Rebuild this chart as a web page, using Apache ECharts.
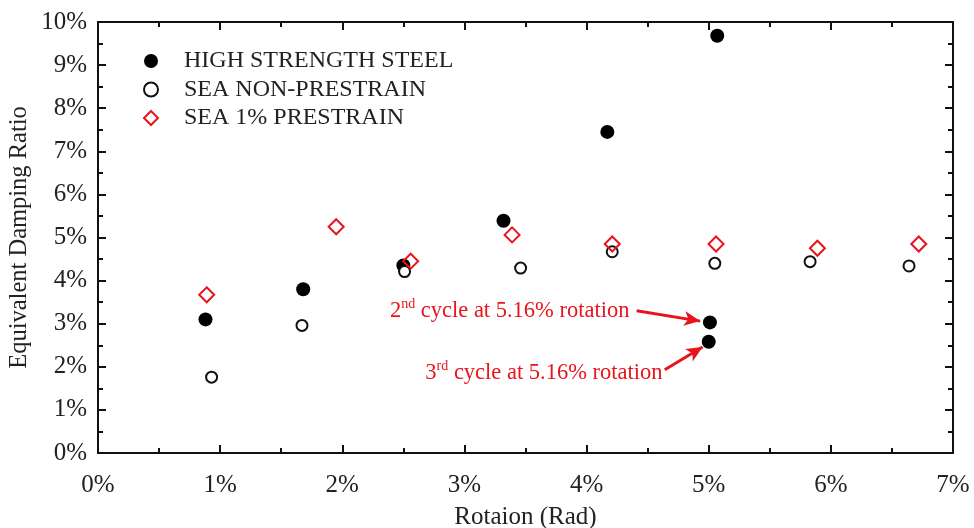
<!DOCTYPE html>
<html>
<head>
<meta charset="utf-8">
<script src="https://cdn.jsdelivr.net/npm/echarts@6/dist/echarts.min.js"></script>
<style>
html,body{margin:0;padding:0;background:#fff;}
#c{width:974px;height:528px;}
</style>
</head>
<body>
<div id="c"></div>
<script>
// Rotation (%) and equivalent damping ratio (%)
var steelX = [0.88, 1.68, 2.50, 3.32, 4.17, 5.07, 5.01, 5.00];
var steelY = [3.10, 3.80, 4.35, 5.39, 7.45, 9.68, 3.03, 2.58];
var seaNonX = [0.93, 1.67, 2.51, 3.46, 4.21, 5.05, 5.83, 6.64];
var seaNonY = [1.76, 2.96, 4.21, 4.29, 4.67, 4.40, 4.44, 4.34];
var seaPreX = [0.89, 1.95, 2.56, 3.39, 4.21, 5.06, 5.89, 6.72];
var seaPreY = [3.67, 5.25, 4.45, 5.06, 4.85, 4.85, 4.75, 4.85];
var seriesNames = ['HIGH STRENGTH STEEL', 'SEA NON-PRESTRAIN', 'SEA 1% PRESTRAIN'];
var xTicks = [0, 1, 2, 3, 4, 5, 6, 7];
var yTicks = [0, 1, 2, 3, 4, 5, 6, 7, 8, 9, 10];
var note2nd = {x: 2.39, y: 3.32, arrowFrom: [4.41, 3.30], arrowTo: [4.93, 3.06]};
var note3rd = {x: 2.68, y: 1.88, arrowFrom: [4.64, 1.93], arrowTo: [4.95, 2.46]};

function pairs(xs, ys) { return xs.map(function (x, i) { return [x, ys[i]]; }); }

var FONT = '"Liberation Serif", "Times New Roman", serif';
var RED = '#e8141c';
var chart = echarts.init(document.getElementById('c'), null, {renderer: 'canvas'});

var richStyle = {
  m: {fontFamily: FONT, fontSize: 22.5, color: RED, lineHeight: 26, verticalAlign: 'bottom'},
  s: {fontFamily: FONT, fontSize: 14, color: RED, lineHeight: 26, verticalAlign: 'top', padding: [0, 0, 10, 0]}
};

function axisCommon(showLabels) {
  return {
    type: 'value', min: xTicks[0], max: xTicks[xTicks.length - 1], interval: 1,
    axisLine: {show: true, onZero: false, lineStyle: {color: '#111', width: 2}},
    axisTick: {show: true, inside: true, length: 8, lineStyle: {color: '#111', width: 2}},
    minorTick: {show: true, splitNumber: 2, length: 5, lineStyle: {color: '#111', width: 2}},
    splitLine: {show: false},
    axisLabel: {show: showLabels}
  };
}

var xBottom = axisCommon(true);
xBottom.position = 'bottom';
xBottom.name = 'Rotaion (Rad)';
xBottom.nameLocation = 'middle';
xBottom.nameGap = 52;
xBottom.nameTextStyle = {fontFamily: FONT, fontSize: 25, color: '#222'};
xBottom.axisLabel = {show: true, formatter: '{value}%', fontFamily: FONT, fontSize: 25, color: '#222', margin: 20};
var xTop = axisCommon(false);
xTop.position = 'top';

var yLeft = axisCommon(true);
yLeft.min = yTicks[0]; yLeft.max = yTicks[yTicks.length - 1];
yLeft.position = 'left';
yLeft.name = 'Equivalent Damping Ratio';
yLeft.nameLocation = 'middle';
yLeft.nameGap = 66;
yLeft.nameMoveOverlap = false;
yLeft.nameTextStyle = {fontFamily: FONT, fontSize: 24.5, color: '#222'};
yLeft.axisLabel = {show: true, formatter: '{value}%', fontFamily: FONT, fontSize: 25, color: '#222', margin: 11};
var yRight = axisCommon(false);
yRight.min = yTicks[0]; yRight.max = yTicks[yTicks.length - 1];
yRight.position = 'right';

var option = {
  animation: false,
  backgroundColor: '#fff',
  grid: {left: 98, right: 21, top: 22, bottom: 75, containLabel: false, outerBoundsMode: 'none'},
  legend: {
    orient: 'vertical', left: 143, top: 49, padding: 0, itemGap: 4.5, itemWidth: 14, itemHeight: 14,
    textStyle: {fontFamily: FONT, fontSize: 24, lineHeight: 23, color: '#222', padding: [0, 0, 0, 21]},
    data: seriesNames
  },
  xAxis: [xBottom, xTop],
  yAxis: [yLeft, yRight],
  series: [
    {
      name: seriesNames[0], type: 'scatter', xAxisIndex: 0, yAxisIndex: 0,
      symbol: 'circle', symbolSize: 14,
      itemStyle: {color: '#000', opacity: 1},
      data: pairs(steelX, steelY),
      markPoint: {
        symbol: 'circle', symbolSize: 0, silent: true,
        data: [
          {coord: [note2nd.x, note2nd.y], label: {show: true, position: 'right', distance: 0,
            formatter: '{m|2}{s|nd}{m| cycle at 5.16% rotation}', rich: richStyle}},
          {coord: [note3rd.x, note3rd.y], label: {show: true, position: 'right', distance: 0,
            formatter: '{m|3}{s|rd}{m| cycle at 5.16% rotation}', rich: richStyle}}
        ]
      },
      markLine: {
        silent: true, symbol: ['none', 'arrow'], symbolSize: [11, 16],
        label: {show: false},
        lineStyle: {color: RED, width: 3, type: 'solid'},
        data: [
          [{coord: note2nd.arrowFrom}, {coord: note2nd.arrowTo}],
          [{coord: note3rd.arrowFrom}, {coord: note3rd.arrowTo}]
        ]
      }
    },
    {
      name: seriesNames[1], type: 'scatter', xAxisIndex: 0, yAxisIndex: 0,
      symbol: 'circle', symbolSize: 11,
      itemStyle: {color: '#fff', borderColor: '#111', borderWidth: 2, opacity: 1},
      data: pairs(seaNonX, seaNonY)
    },
    {
      name: seriesNames[2], type: 'scatter', xAxisIndex: 0, yAxisIndex: 0,
      symbol: 'diamond', symbolSize: 15,
      itemStyle: {color: 'rgba(255,255,255,0)', borderColor: RED, borderWidth: 2, opacity: 1},
      data: pairs(seaPreX, seaPreY)
    }
  ]
};
chart.setOption(option);
</script>
</body>
</html>
